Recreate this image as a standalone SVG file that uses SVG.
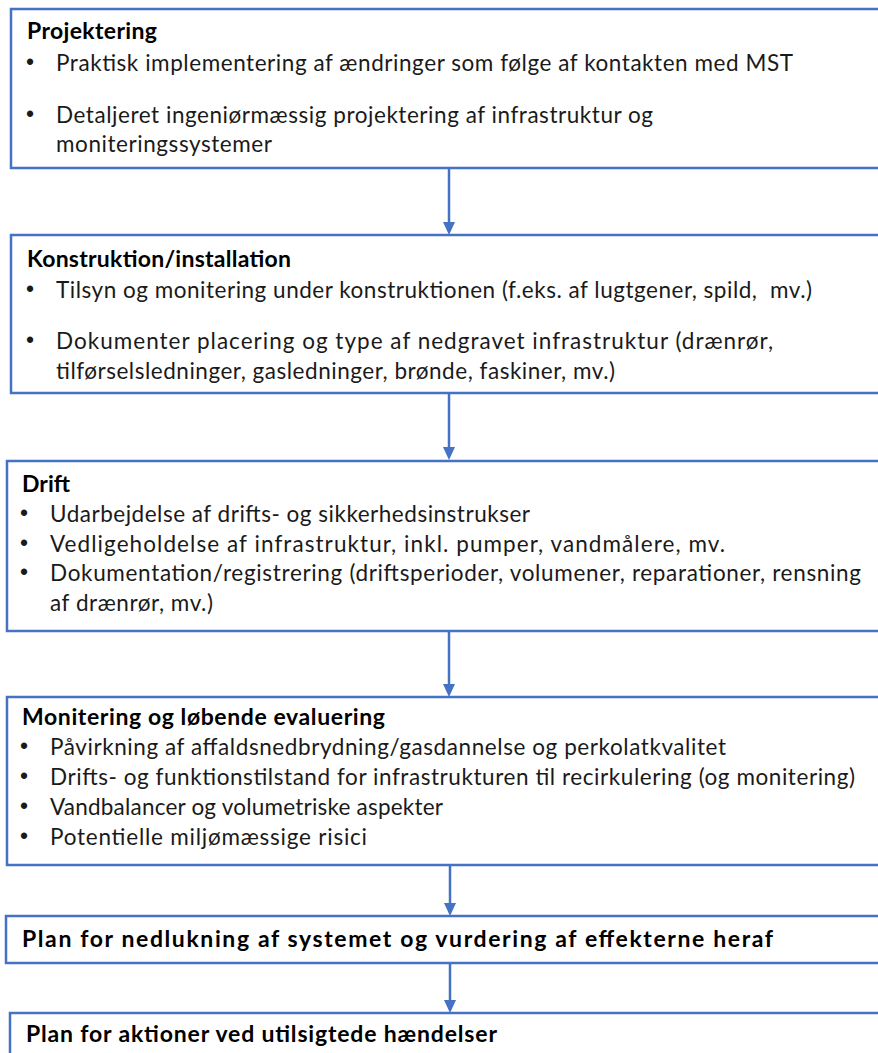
<svg xmlns="http://www.w3.org/2000/svg" width="878" height="1053" viewBox="0 0 878 1053">
<defs>
<style>
.box{fill:#ffffff;stroke:#4472C4;stroke-width:2.5}
.t{font-family:Lato,"Liberation Sans",sans-serif;font-size:22.5px;fill:#1a1a1a}
.b{font-weight:bold;fill:#000;font-size:23px}
.bu{font-family:"Liberation Sans",sans-serif;font-size:23px;fill:#1a1a1a}
.con{stroke:#4472C4;stroke-width:2.5;fill:none}
.ah{fill:#4472C4}
</style>
</defs>
<rect width="878" height="1053" fill="#fff"/>
<g id="connectors">
<line class="con" x1="449" y1="168" x2="449" y2="224"/><polygon class="ah" points="443,222 455,222 449,235"/>
<line class="con" x1="449" y1="393" x2="449" y2="449"/><polygon class="ah" points="443,447 455,447 449,460"/>
<line class="con" x1="449" y1="631" x2="449" y2="686"/><polygon class="ah" points="443,684 455,684 449,697"/>
<line class="con" x1="450" y1="865" x2="450" y2="905"/><polygon class="ah" points="444,903 456,903 450,916"/>
<line class="con" x1="450" y1="963" x2="450" y2="1002"/><polygon class="ah" points="444,1000 456,1000 450,1013"/>
</g>
<g id="n1">
<rect class="box" x="11" y="9" width="880" height="159"/>
<text class="t b" x="27" y="39" textLength="130">Projektering</text>
<text class="bu" x="26" y="70">•</text>
<text class="t" x="56" y="71" textLength="737">Praktisk implementering af ændringer som følge af kontakten med MST</text>
<text class="bu" x="26" y="122">•</text>
<text class="t" x="56" y="123" textLength="597">Detaljeret ingeniørmæssig projektering af infrastruktur og</text>
<text class="t" x="56" y="152" textLength="216">moniteringssystemer</text>
</g>
<g id="n2">
<rect class="box" x="11" y="235" width="880" height="158"/>
<text class="t b" x="27" y="267" textLength="264">Konstruktion/installation</text>
<text class="bu" x="26" y="297">•</text>
<text class="t" x="56" y="298" textLength="756" xml:space="preserve">Tilsyn og monitering under konstruktionen (f.eks. af lugtgener, spild,  mv.)</text>
<text class="bu" x="26" y="348">•</text>
<text class="t" x="56" y="349" textLength="717">Dokumenter placering og type af nedgravet infrastruktur (drænrør,</text>
<text class="t" x="56" y="379" textLength="559">tilførselsledninger, gasledninger, brønde, faskiner, mv.)</text>
</g>
<g id="n3">
<rect class="box" x="7" y="461" width="880" height="170"/>
<text class="t b" x="22" y="492" textLength="48">Drift</text>
<text class="bu" x="20" y="521">•</text>
<text class="t" x="50" y="522" textLength="480">Udarbejdelse af drifts- og sikkerhedsinstrukser</text>
<text class="bu" x="20" y="551">•</text>
<text class="t" x="50" y="552" textLength="675">Vedligeholdelse af infrastruktur, inkl. pumper, vandmålere, mv.</text>
<text class="bu" x="20" y="580">•</text>
<text class="t" x="50" y="581" textLength="811">Dokumentation/registrering (driftsperioder, volumener, reparationer, rensning</text>
<text class="t" x="50" y="611" textLength="163">af drænrør, mv.)</text>
</g>
<g id="n4">
<rect class="box" x="7" y="697" width="880" height="168"/>
<text class="t b" x="22" y="725" textLength="363">Monitering og løbende evaluering</text>
<text class="bu" x="20" y="754">•</text>
<text class="t" x="50" y="755" textLength="676">Påvirkning af affaldsnedbrydning/gasdannelse og perkolatkvalitet</text>
<text class="bu" x="20" y="784">•</text>
<text class="t" x="50" y="785" textLength="805">Drifts- og funktionstilstand for infrastrukturen til recirkulering (og monitering)</text>
<text class="bu" x="20" y="814">•</text>
<text class="t" x="50" y="815" textLength="393">Vandbalancer og volumetriske aspekter</text>
<text class="bu" x="20" y="844">•</text>
<text class="t" x="50" y="845" textLength="317">Potentielle miljømæssige risici</text>
</g>
<g id="n5">
<rect class="box" x="6" y="916" width="880" height="47"/>
<text class="t b" x="22" y="947" textLength="751">Plan for nedlukning af systemet og vurdering af effekterne heraf</text>
</g>
<g id="n6">
<rect class="box" x="10" y="1013" width="880" height="60"/>
<text class="t b" x="26" y="1042" textLength="471">Plan for aktioner ved utilsigtede hændelser</text>
</g>
</svg>
